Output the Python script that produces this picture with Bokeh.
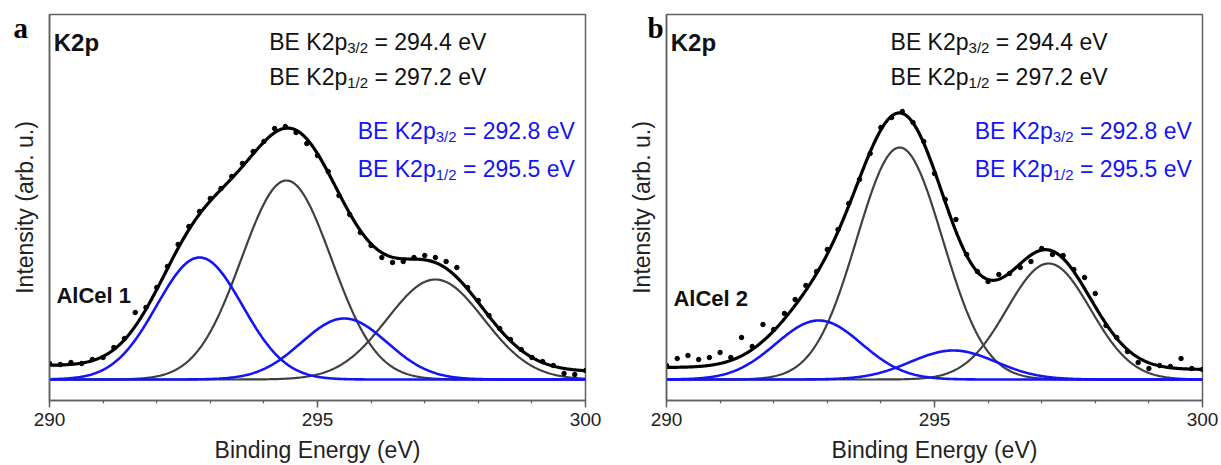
import numpy as np
from bokeh.plotting import figure
from bokeh.layouts import row
from bokeh.models import Label, Range1d, SingleIntervalTicker, FixedTicker, Title
from bokeh.embed import file_html
from bokeh.resources import INLINE

# ---------------- data ----------------
x_ticks = [290, 295, 300]

# component peaks: [K2p3/2 (gray), K2p1/2 (gray), K2p3/2 (blue), K2p1/2 (blue)]
a_centers = [294.42, 297.20, 292.80, 295.50]
a_heights = [199, 100, 122, 61]
a_sigmas = [0.84, 0.90, 0.80, 0.80]
a_bg = [14, 8]          # background at 290 eV and 300 eV

b_centers = [294.35, 297.13, 292.84, 295.35]
b_heights = [232, 116, 59, 29]
b_sigmas = [0.80, 0.78, 0.80, 0.80]
b_bg = [12, 10]

dots_x = [round(290 + 0.2 * i, 1) for i in range(51)]
a_dots = [16, 15, 17, 16, 20, 22, 32, 41, 67, 72,
          92, 113, 135, 153, 168, 181, 191, 203, 216, 228,
          238, 251, 253, 247, 236, 224, 208, 184, 165, 147,
          134, 122, 117, 118, 122, 124, 122, 118, 112, 92,
          79, 64, 51, 40, 30, 22, 18, 14, 6, 5, 9]
b_dots = [14, 21, 24, 20, 22, 27, 22, 42, 33, 55,
          50, 66, 80, 94, 108, 130, 150, 176, 200, 226,
          252, 262, 268, 257, 238, 206, 180, 160, 125, 108,
          98, 105, 106, 112, 118, 131, 125, 124, 110, 102,
          86, 54, 42, 28, 17, 11, 14, 13, 21, 11, 10]

black_lines = [("3/2", "= 294.4 eV"), ("1/2", "= 297.2 eV")]
blue_lines = [("3/2", "= 292.8 eV"), ("1/2", "= 295.5 eV")]

# ---------------- styling ----------------
FONT = "Liberation Sans"
GRAY = "#404040"
BLUE = "#1414f5"
FRAME = "#606060"


def gauss(x, c, h, s):
    return h * np.exp(-(x - c) ** 2 / (2 * s * s))


def be_text(p, x0, y0, sub, rest, color):
    w_main = 3.391 * 23
    w_sub = 1.39 * 15
    w_sp = 0.278 * 23
    p.add_layout(Label(x=x0, y=y0, text="BE K2p", text_font=FONT,
                       text_font_size="23px", text_color=color,
                       text_baseline="alphabetic"))
    p.add_layout(Label(x=x0, y=y0, x_offset=w_main, y_offset=-6, text=sub,
                       text_font=FONT, text_font_size="15px", text_color=color,
                       text_baseline="alphabetic"))
    p.add_layout(Label(x=x0, y=y0, x_offset=w_main + w_sub + w_sp, text=rest,
                       text_font=FONT, text_font_size="23px", text_color=color,
                       text_baseline="alphabetic"))


def make_panel(letter, sample, centers, heights, sigmas, bg, dots,
               width, bl, br, letter_off, txt_x, blue_x, sample_y):
    title = Title(text=letter, align="left", offset=letter_off, standoff=-58,
                  text_font="Liberation Serif", text_font_style="bold",
                  text_font_size="29px", text_color="black",
                  vertical_align="bottom")
    p = figure(width=width, height=465, output_backend="svg",
               toolbar_location=None, x_range=Range1d(290, 300),
               y_range=Range1d(-21, 365), min_border_left=bl,
               min_border_right=br, min_border_top=14, min_border_bottom=65,
               title=title)
    p.xgrid.visible = False
    p.ygrid.visible = False
    p.outline_line_color = FRAME
    p.outline_line_width = 1.5
    p.background_fill_color = "white"
    p.border_fill_color = "white"

    xa = p.xaxis[0]
    xa.ticker = SingleIntervalTicker(interval=5, num_minor_ticks=5)
    xa.axis_line_color = FRAME
    xa.axis_line_width = 1.5
    xa.major_tick_line_color = FRAME
    xa.minor_tick_line_color = FRAME
    xa.major_tick_line_width = 1.5
    xa.minor_tick_line_width = 1.2
    xa.major_tick_in = 0
    xa.major_tick_out = 7
    xa.minor_tick_in = 0
    xa.minor_tick_out = 3
    xa.major_label_text_font = FONT
    xa.major_label_text_font_size = "19px"
    xa.major_label_text_color = "#222222"
    xa.major_label_standoff = 5
    xa.axis_label = "Binding Energy (eV)"
    xa.axis_label_text_font = FONT
    xa.axis_label_text_font_size = "23px"
    xa.axis_label_text_font_style = "normal"
    xa.axis_label_text_color = "#222222"
    xa.axis_label_standoff = 8

    ya = p.yaxis[0]
    ya.ticker = FixedTicker(ticks=[])
    ya.major_label_text_font_size = "0px"
    ya.major_tick_out = 0
    ya.minor_tick_out = 0
    ya.axis_line_color = FRAME
    ya.axis_line_width = 1.5
    ya.axis_label = "Intensity (arb. u.)"
    ya.axis_label_text_font = FONT
    ya.axis_label_text_font_size = "23px"
    ya.axis_label_text_font_style = "normal"
    ya.axis_label_text_color = "#222222"
    ya.axis_label_standoff = 12

    xs = np.linspace(290, 300, 601)
    comps = [gauss(xs, c, h, s) for c, h, s in zip(centers, heights, sigmas)]
    background = bg[0] + (bg[1] - bg[0]) * (xs - 290) / 10.0
    envelope = comps[0] + comps[1] + comps[2] + comps[3] + background

    for k in (0, 1):
        p.line(xs, comps[k], line_color=GRAY, line_width=2.2)
    for k in (2, 3):
        p.line(xs, comps[k], line_color=BLUE, line_width=2.6)
    p.line(xs, envelope, line_color="black", line_width=3.2)
    p.scatter(dots_x, dots, size=4.5, fill_color="black", line_color="black")

    # texts
    p.add_layout(Label(x=290.08, y=337, text="K2p", text_font=FONT,
                       text_font_style="bold", text_font_size="24px",
                       text_color="#111111", text_baseline="alphabetic"))
    p.add_layout(Label(x=290.13, y=sample_y, text=sample, text_font=FONT,
                       text_font_style="bold", text_font_size="22px",
                       text_color="#111111", text_baseline="alphabetic"))
    be_text(p, txt_x, 338, black_lines[0][0], black_lines[0][1], "#111111")
    be_text(p, txt_x, 303, black_lines[1][0], black_lines[1][1], "#111111")
    be_text(p, blue_x, 249, blue_lines[0][0], blue_lines[0][1], BLUE)
    be_text(p, blue_x, 211, blue_lines[1][0], blue_lines[1][1], BLUE)
    return p


pa = make_panel("a", "AlCel 1", a_centers, a_heights, a_sigmas, a_bg, a_dots,
                610, 49, 25, -36, 294.10, 295.75, 84)
pb = make_panel("b", "AlCel 2", b_centers, b_heights, b_sigmas, b_bg, b_dots,
                611, 56, 19, -19, 294.18, 295.75, 81)

layout = row(pa, pb)
open("out.html", "w").write(file_html(layout, INLINE))
